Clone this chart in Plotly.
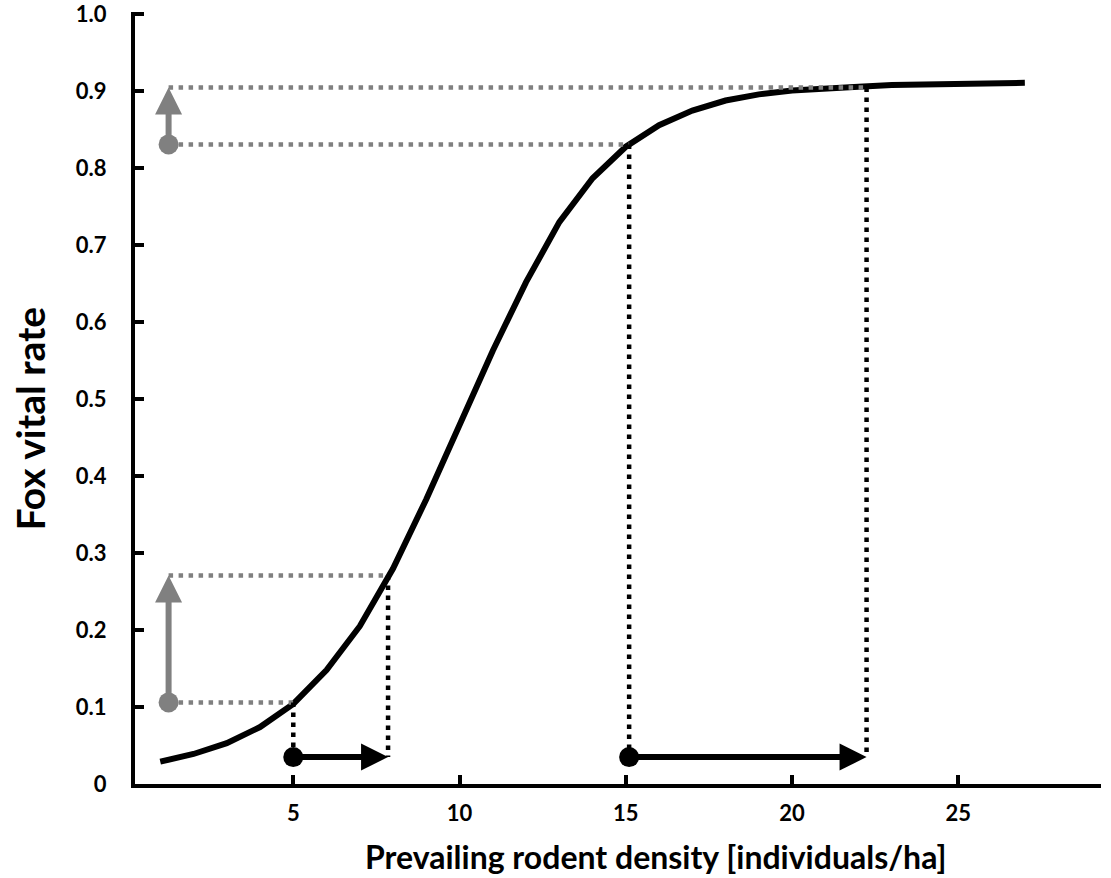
import plotly.graph_objects as go

# ---- data ----
density = list(range(1, 28))
vital_rate = [0.029, 0.039, 0.053, 0.074, 0.104, 0.148, 0.205, 0.280, 0.370, 0.465,
              0.563, 0.652, 0.730, 0.787, 0.828, 0.856, 0.875, 0.888, 0.896, 0.901,
              0.904, 0.906, 0.908, 0.909, 0.910, 0.910, 0.911]

density_before = [5.0, 15.1]      # rodent density before change
density_after = [7.85, 22.24]     # rodent density after change
rate_before = [0.106, 0.831]      # fox vital rate before
rate_after = [0.271, 0.905]       # fox vital rate after
shift_level = 0.035               # height of the density arrows
rate_axis_pos = 1.25              # x position of the vital-rate arrows

x_ticks = [5, 10, 15, 20, 25]
y_ticks = [0, 0.1, 0.2, 0.3, 0.4, 0.5, 0.6, 0.7, 0.8, 0.9, 1.0]
y_tick_text = ["0", "0.1", "0.2", "0.3", "0.4", "0.5", "0.6", "0.7", "0.8", "0.9", "1.0"]

x_title = "Prevailing rodent density [individuals/ha]"
y_title = "Fox vital rate"

GRAY = "#808080"
FONT = "Lato"

fig = go.Figure()

# curve
fig.add_trace(go.Scatter(x=density, y=vital_rate, mode="lines",
                         line=dict(color="black", width=6), hoverinfo="skip"))

# gray horizontal dotted guides
gx, gy = [], []
for xb, rb in zip(density_before, rate_before):
    gx += [rate_axis_pos, xb, None]
    gy += [rb, rb, None]
for xa, ra in zip(density_after, rate_after):
    gx += [rate_axis_pos, xa, None]
    gy += [ra, ra, None]
fig.add_trace(go.Scatter(x=gx, y=gy, mode="lines",
                         line=dict(color=GRAY, width=4.5, dash="4.5px,5.5px"),
                         hoverinfo="skip"))

# black vertical dotted guides
vx, vy = [], []
for xb, rb in zip(density_before, rate_before):
    vx += [xb, xb, None]
    vy += [rb, shift_level, None]
for xa, ra in zip(density_after, rate_after):
    vx += [xa, xa, None]
    vy += [ra, shift_level, None]
fig.add_trace(go.Scatter(x=vx, y=vy, mode="lines",
                         line=dict(color="black", width=4.5, dash="4.5px,5.5px"),
                         hoverinfo="skip"))

# dots at arrow tails
fig.add_trace(go.Scatter(x=density_before, y=[shift_level] * len(density_before),
                         mode="markers", marker=dict(color="black", size=20),
                         hoverinfo="skip"))
fig.add_trace(go.Scatter(x=[rate_axis_pos] * len(rate_before), y=rate_before,
                         mode="markers", marker=dict(color=GRAY, size=20),
                         hoverinfo="skip"))

annotations = []
for xb, xa in zip(density_before, density_after):
    annotations.append(dict(x=xa, y=shift_level, ax=xb, ay=shift_level,
                            xref="x", yref="y", axref="x", ayref="y",
                            text="", showarrow=True, arrowhead=2, arrowsize=0.9,
                            arrowwidth=6, arrowcolor="black", standoff=0))
for rb, ra in zip(rate_before, rate_after):
    annotations.append(dict(x=rate_axis_pos, y=ra, ax=rate_axis_pos, ay=rb,
                            xref="x", yref="y", axref="x", ayref="y",
                            text="", showarrow=True, arrowhead=2, arrowsize=0.9,
                            arrowwidth=6, arrowcolor=GRAY, standoff=0))

annotations.append(dict(text=x_title, xref="paper", yref="paper", x=0.539, y=-0.0945,
                        xanchor="center", yanchor="middle", showarrow=False,
                        font=dict(family=FONT, size=32, color="black", weight="bold")))
annotations.append(dict(text=y_title, xref="paper", yref="paper", x=-0.1087, y=0.4734,
                        xanchor="center", yanchor="middle", showarrow=False, textangle=-90,
                        font=dict(family=FONT, size=39, color="black", weight="bold")))

fig.update_layout(
    width=1111, height=878,
    margin=dict(l=135, r=10, t=12, b=94, autoexpand=False),
    paper_bgcolor="white", plot_bgcolor="white",
    showlegend=False,
    annotations=annotations,
    xaxis=dict(range=[0.24, 29.29], tickvals=x_ticks, ticks="inside", ticklen=9, tickwidth=4,
               tickcolor="black", showline=True, linewidth=4, linecolor="black",
               showgrid=False, zeroline=False, ticklabelstandoff=7, automargin=False,
               tickfont=dict(family=FONT, size=22, color="black", weight="bold")),
    yaxis=dict(range=[0, 1.003], tickvals=y_ticks, ticktext=y_tick_text, ticks="inside",
               ticklen=9, tickwidth=4, tickcolor="black", showline=True, linewidth=4,
               linecolor="black", showgrid=False, zeroline=False, ticklabelstandoff=20,
               automargin=False,
               tickfont=dict(family=FONT, size=22, color="black", weight="bold")),
)

fig.write_html("out.html", config={"displayModeBar": False},
               post_script="document.body.style.margin='0';")
